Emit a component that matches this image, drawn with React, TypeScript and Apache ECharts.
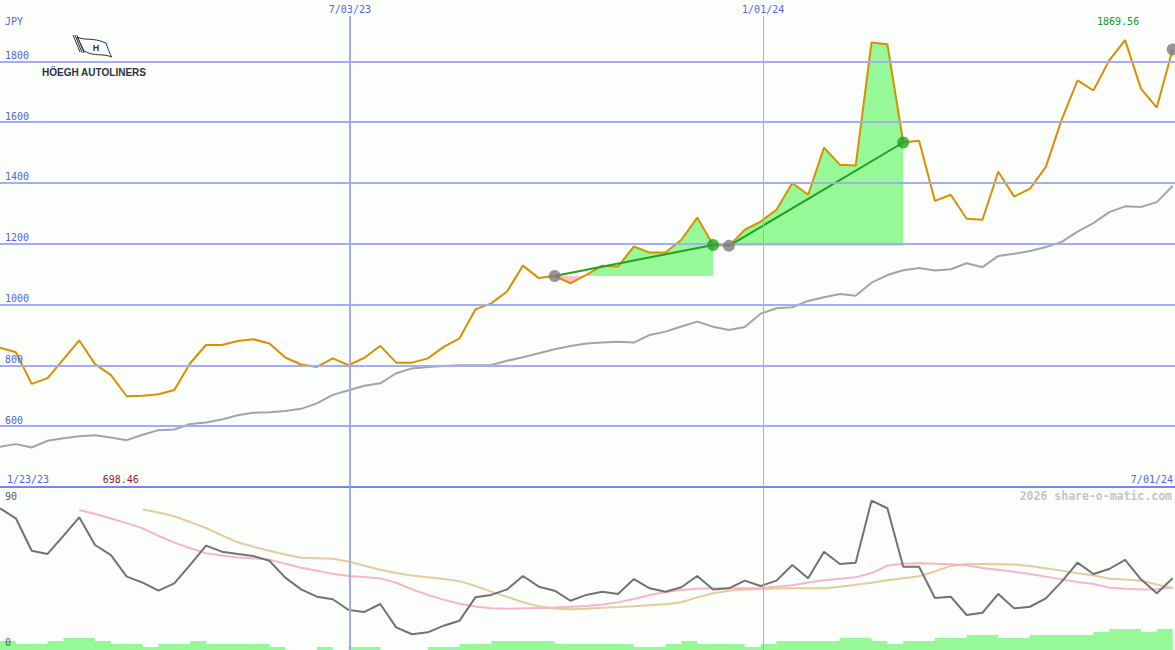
import React, { useEffect, useRef } from "react";
import * as echarts from "echarts";

// ---------- data ----------
const PRICE = [
  858, 843, 739, 758, 820, 882, 804, 768, 698.46, 700,
  705, 719, 807, 867, 867, 880, 886, 872, 826, 803,
  795, 823, 801, 825, 864, 809, 809, 823, 861, 889,
  984, 1004, 1043, 1128, 1087, 1094, 1070, 1098, 1128, 1125,
  1191, 1171, 1171, 1213, 1286, 1196, 1193, 1246, 1273, 1312,
  1400, 1361, 1516, 1460, 1457, 1862, 1856, 1533, 1539, 1341,
  1361, 1282, 1279, 1437, 1355, 1381, 1453, 1608, 1737, 1704,
  1803, 1869.56, 1710, 1648, 1839,
];
const MOVING_AVG = [
  532, 541, 530, 552, 560, 567, 570, 563, 554, 572,
  587, 589, 607, 612, 622, 636, 644, 646, 650, 657,
  675, 703, 718, 733, 741, 774, 790, 795, 798, 800,
  800, 801, 815, 827, 840, 853, 864, 872, 875, 878,
  875, 900, 911, 928, 944, 927, 916, 926, 970, 988,
  991, 1012, 1024, 1035, 1029, 1072, 1097, 1113, 1120, 1112,
  1116, 1136, 1123, 1160, 1167, 1176, 1189, 1206, 1240, 1268,
  1304, 1323, 1321, 1337, 1390,
];
const OSC = [
  87.5, 81.3, 61.3, 59.3, 70.5, 81.9, 64.8, 58.6, 45.3, 41.6,
  36.6, 41.1, 52.5, 64.4, 60.7, 59.3, 58, 55.1, 44.7, 37.4,
  32.9, 31.3, 24.7, 23.5, 28.4, 14, 9.7, 10.9, 15, 18.1,
  32.5, 34, 37.4, 45.7, 39.1, 36.6, 30.4, 34, 36, 34.6,
  43.8, 38.1, 36, 38.7, 45.7, 37.4, 38.1, 42.8, 39.5, 42.8,
  52.5, 44.3, 60.7, 53.1, 53.9, 92.2, 87.5, 51.4, 51.4, 32.1,
  32.9, 21.6, 23, 34.6, 25.7, 26.7, 31.9, 42.2, 53.9, 46.9,
  50, 55.6, 43.6, 35, 44.3,
];
const OSC_FAST = [
  null, null, null, null, null, 86.4, 84, 81.2, 78.3, 75.1,
  70.5, 66.3, 62.8, 59.8, 58.3, 57.1, 56.6, 55.8, 53.2, 50.8,
  48.9, 47, 45.7, 45, 44.2, 41.5, 37.5, 34, 31, 28.5,
  26.8, 25.7, 25.5, 25.7, 26, 26.3, 26.7, 27.2, 28.1, 29.4,
  31.5, 34, 35.8, 37, 37.8, 38.1, 38.1, 38.1, 38.3, 39,
  40, 41.6, 43, 44, 44.9, 47.5, 52, 53.3, 53.5, 53.3,
  53, 52.3, 50.6, 49.5, 48.3, 46.9, 45.3, 43.6, 42, 40.7,
  38.5, 37.8, 37.4, 37.5, 38.7,
];
const OSC_SLOW = [
  null, null, null, null, null, null, null, null, null, 86.8,
  84.9, 82.6, 79, 75.3, 70.8, 66.5, 63.7, 61.3, 59, 57,
  56.7, 56.3, 54.6, 52, 49.5, 47.5, 46, 44.9, 43.9, 42.5,
  39.5, 36, 32.8, 29.5, 27, 25.5, 25.1, 25.5, 26.1, 26.5,
  27, 27.6, 28.2, 29.5, 32.5, 35, 36.6, 37.3, 37.6, 38,
  38.1, 38.1, 38.1, 39, 40.3, 41.5, 43, 44.3, 45.5, 48.5,
  51.9, 53.1, 53.1, 53, 52.8, 51.9, 50.5, 49, 47.4, 46.2,
  44, 43.5, 42.8, 40.5, 38.1,
];
const VOLUME = [
  3, 2, 2, 3, 4, 4, 3, 2, 2, 1,
  2, 2, 3, 2, 2, 2, 2, 1, 0, 0,
  1, 0, 1, 1, 0, 0, 0, 1, 1, 2,
  2, 3, 3, 3, 3, 2, 2, 2, 2, 2,
  1, 1, 2, 3, 2, 2, 2, 1, 2, 3,
  3, 3, 3, 4, 4, 3, 2, 3, 3, 4,
  4, 5, 5, 4, 4, 5, 5, 5, 5, 6,
  7, 7, 6, 7, 7,
];
const GRID_LEVELS = [600, 800, 1000, 1200, 1400, 1600, 1800];
const DATE_MARK_POS = [22.08, 48.16];
const DATE_MARK_LABELS = ["7/03/23", "1/01/24"];
const START_DATE = "1/23/23";
const END_DATE = "7/01/24";
const CURRENCY = "JPY";
const OSC_TOP_LABEL = "90";
const OSC_BOTTOM_LABEL = "0";
const WATERMARK = "2026 share-o-matic.com";
const COMPANY = "HÖEGH AUTOLINERS";
const REGIONS = [
  [35, 45],
  [46, 57],
];

// axis extents
const X_MIN = 0;
const X_MAX = 74.15;
const Y_MIN = 400;
const Y_MAX = 1949;
const OSC_MIN = 0;
const OSC_MAX = 100;
const VOL_MAX = 54;

// ---------- style ----------
const MONO = "DejaVu Sans Mono";
const BG = "#fcfefc";
const GRID_COLOR = "#a3aef0";
const LABEL_BLUE = "#5262ee";
const PRICE_COLOR = "#d89000";
const MA_COLOR = "#a4a4a4";
const FILL_UP = "#96f896";
const FILL_DOWN = "#ffc0cc";
const TREND_COLOR = "#22a022";
const DOT_GRAY = "#7c7c7c";

const FLAG_PATH =
  "M0 0 L7 17 M2 0 L9 17.5 M4 0.5 L11 18 " +
  "M4 2 C12 6 19 2 33 8 C34.5 12 36 17 38.5 22 C30 18 22 22 11 16 C9 11 6 6 4 2 Z";
echarts.graphic.registerShape("hoeghFlag", echarts.graphic.extendPath(FLAG_PATH, {}));

const pairs = (arr: (number | null)[]) =>
  arr.map((v, i) => [i, v]).filter((p) => p[1] !== null);

const renderFill = (_params: any, api: any) => {
  const s = api.value(0);
  const e = api.value(1);
  const by = api.coord([s, PRICE[s]])[1];
  const pts: number[][] = [];
  for (let i = s; i <= e; i++) {
    const p = api.coord([i, PRICE[i]]);
    if (pts.length) {
      const a = pts[pts.length - 1];
      if ((a[1] - by) * (p[1] - by) < 0) {
        const t = (by - a[1]) / (p[1] - a[1]);
        pts.push([a[0] + t * (p[0] - a[0]), by]);
      }
    }
    pts.push(p);
  }
  const x0 = pts[0][0];
  const x1 = pts[pts.length - 1][0];
  const up = [[x0, by], ...pts.map((p) => [p[0], Math.min(p[1], by)]), [x1, by]];
  const dn = [[x0, by], ...pts.map((p) => [p[0], Math.max(p[1], by)]), [x1, by]];
  return {
    type: "group",
    children: [
      { type: "polygon", shape: { points: up }, style: { fill: FILL_UP } },
      { type: "polygon", shape: { points: dn }, style: { fill: FILL_DOWN } },
    ],
  };
};

function buildOption() {
  const minVal = Math.min(...PRICE);
  const maxVal = Math.max(...PRICE);
  const minIdx = PRICE.indexOf(minVal);
  const maxIdx = PRICE.indexOf(maxVal);
  const lastIdx = PRICE.length - 1;

  const dateLineStyles = [
    { color: "#9eacf6", width: 2, type: "solid" },
    { color: "#a6add6", width: 1, type: "solid" },
  ];

  const hiddenAxis = {
    axisLine: { show: false },
    axisTick: { show: false },
    axisLabel: { show: false },
    splitLine: { show: false },
  };

  const series: any[] = [
    {
      type: "line",
      xAxisIndex: 0,
      yAxisIndex: 0,
      data: [],
      z: 0,
      silent: true,
      markLine: {
        silent: true,
        symbol: ["none", "none"],
        animation: false,
        data: [
          ...GRID_LEVELS.map((v) => ({
            yAxis: v,
            lineStyle: { color: GRID_COLOR, width: 2, type: "solid" },
            label: {
              show: true,
              position: "insideStartTop",
              distance: [5, 1],
              formatter: String(v),
              color: LABEL_BLUE,
              fontSize: 10,
              fontFamily: MONO,
            },
          })),
          ...DATE_MARK_POS.map((x, k) => ({
            xAxis: x,
            lineStyle: dateLineStyles[k],
            label: {
              show: true,
              position: "end",
              distance: 2,
              formatter: DATE_MARK_LABELS[k],
              color: LABEL_BLUE,
              fontSize: 10,
              fontFamily: MONO,
            },
          })),
        ],
      },
    },
    {
      type: "line",
      xAxisIndex: 1,
      yAxisIndex: 1,
      data: [],
      z: 0,
      silent: true,
      markLine: {
        silent: true,
        symbol: ["none", "none"],
        animation: false,
        label: { show: false },
        data: DATE_MARK_POS.map((x, k) => ({ xAxis: x, lineStyle: dateLineStyles[k] })),
      },
    },
    {
      type: "custom",
      xAxisIndex: 0,
      yAxisIndex: 0,
      z: 1,
      silent: true,
      clip: false,
      renderItem: renderFill,
      encode: { x: [0, 1], y: 2 },
      data: REGIONS.map(([s, e]) => [s, e, PRICE[s]]),
    },
    {
      type: "line",
      xAxisIndex: 0,
      yAxisIndex: 0,
      z: 2,
      data: pairs(MOVING_AVG),
      symbol: "none",
      silent: true,
      lineStyle: { color: MA_COLOR, width: 2 },
    },
    {
      type: "line",
      xAxisIndex: 0,
      yAxisIndex: 0,
      z: 3,
      data: pairs(PRICE),
      symbol: "none",
      silent: true,
      lineStyle: { color: PRICE_COLOR, width: 2 },
      markPoint: {
        silent: true,
        symbol: "circle",
        symbolSize: 1,
        itemStyle: { color: "rgba(0,0,0,0)" },
        data: [
          {
            coord: [minIdx, Y_MIN],
            value: minVal,
            label: {
              show: true,
              position: "inside",
              offset: [-6, -8],
              formatter: minVal.toFixed(2),
              color: "#a01818",
              fontSize: 10,
              fontFamily: MONO,
            },
          },
          {
            coord: [maxIdx, Y_MAX],
            value: maxVal,
            label: {
              show: true,
              position: "inside",
              offset: [-7, 5],
              formatter: maxVal.toFixed(2),
              color: "#189818",
              fontSize: 10,
              fontFamily: MONO,
            },
          },
        ],
      },
    },
    ...REGIONS.map(([s, e]) => ({
      type: "line",
      xAxisIndex: 0,
      yAxisIndex: 0,
      z: 4,
      data: [
        [s, PRICE[s]],
        [e, PRICE[e]],
      ],
      symbol: "none",
      silent: true,
      lineStyle: { color: TREND_COLOR, width: 2 },
    })),
    {
      type: "scatter",
      xAxisIndex: 0,
      yAxisIndex: 0,
      z: 5,
      silent: true,
      symbolSize: 12,
      itemStyle: { color: DOT_GRAY },
      data: [...REGIONS.map(([s]) => [s, PRICE[s]]), [lastIdx, PRICE[lastIdx]]],
    },
    {
      type: "scatter",
      xAxisIndex: 0,
      yAxisIndex: 0,
      z: 5,
      silent: true,
      symbolSize: 12,
      itemStyle: { color: TREND_COLOR },
      data: REGIONS.map(([, e]) => [e, PRICE[e]]),
    },
    {
      type: "line",
      xAxisIndex: 1,
      yAxisIndex: 2,
      z: 1,
      data: pairs(VOLUME),
      step: "end",
      symbol: "none",
      silent: true,
      lineStyle: { width: 0 },
      areaStyle: { color: FILL_UP, opacity: 1 },
    },
    {
      type: "line",
      xAxisIndex: 1,
      yAxisIndex: 1,
      z: 2,
      data: pairs(OSC_SLOW),
      symbol: "none",
      silent: true,
      lineStyle: { color: "#e4cc9c", width: 2 },
    },
    {
      type: "line",
      xAxisIndex: 1,
      yAxisIndex: 1,
      z: 2,
      data: pairs(OSC_FAST),
      symbol: "none",
      silent: true,
      lineStyle: { color: "#f8b4c8", width: 2 },
    },
    {
      type: "line",
      xAxisIndex: 1,
      yAxisIndex: 1,
      z: 3,
      data: pairs(OSC),
      symbol: "none",
      silent: true,
      lineStyle: { color: "#727272", width: 2 },
    },
  ];

  const txt = (text: string, x: number, y: number, color: string, extra: any = {}) => ({
    type: "text",
    x,
    y,
    z: 20,
    silent: true,
    style: {
      text,
      fill: color,
      font: `10px "${MONO}"`,
      verticalAlign: "middle",
      align: "left",
      ...extra,
    },
  });

  return {
    animation: false,
    backgroundColor: BG,
    grid: [
      { left: 0, right: 0, top: 16, height: 471 },
      { left: 0, right: 0, top: 488, height: 162 },
    ],
    xAxis: [
      {
        type: "value",
        gridIndex: 0,
        min: X_MIN,
        max: X_MAX,
        ...hiddenAxis,
        axisLine: { show: true, onZero: false, lineStyle: { color: "#7686ee", width: 2 } },
      },
      { type: "value", gridIndex: 1, min: X_MIN, max: X_MAX, ...hiddenAxis },
    ],
    yAxis: [
      { type: "value", gridIndex: 0, min: Y_MIN, max: Y_MAX, ...hiddenAxis },
      { type: "value", gridIndex: 1, min: OSC_MIN, max: OSC_MAX, ...hiddenAxis },
      { type: "value", gridIndex: 1, min: 0, max: VOL_MAX, ...hiddenAxis },
    ],
    series,
    graphic: [
      txt(CURRENCY, 5, 21, LABEL_BLUE),
      txt(START_DATE, 7, 479, LABEL_BLUE),
      txt(END_DATE, 1173, 479, LABEL_BLUE, { align: "right" }),
      txt(OSC_TOP_LABEL, 5, 496, "#5a5a5a"),
      txt(OSC_BOTTOM_LABEL, 5, 642, "#5a5a5a"),
      txt(WATERMARK, 1172, 496, "#c4c4c4", { font: `bold 11.5px "${MONO}"`, align: "right" }),
      {
        type: "group",
        z: 15,
        silent: true,
        children: [
          { type: "rect", shape: { x: 35, y: 32, width: 115, height: 47 }, style: { fill: BG } },
          {
            type: "hoeghFlag",
            x: 73,
            y: 35,
            style: { fill: "#ffffff", stroke: "#2a3142", lineWidth: 1 },
          },
          {
            type: "text",
            x: 96,
            y: 48,
            style: {
              text: "H",
              fill: "#2a3142",
              font: 'bold 9px "Liberation Sans"',
              align: "center",
              verticalAlign: "middle",
            },
          },
          {
            type: "text",
            x: 94,
            y: 72.5,
            style: {
              text: COMPANY,
              fill: "#2a3142",
              font: 'bold 10px "Liberation Sans"',
              align: "center",
              verticalAlign: "middle",
            },
          },
        ],
      },
    ],
  };
}

export default function App() {
  const ref = useRef<HTMLDivElement>(null);
  useEffect(() => {
    document.body.style.margin = "0";
    if (!ref.current) return;
    const chart = echarts.init(ref.current, undefined, { renderer: "svg" });
    chart.setOption(buildOption() as any);
    return () => chart.dispose();
  }, []);
  return <div ref={ref} style={{ width: 1175, height: 650 }} />;
}
